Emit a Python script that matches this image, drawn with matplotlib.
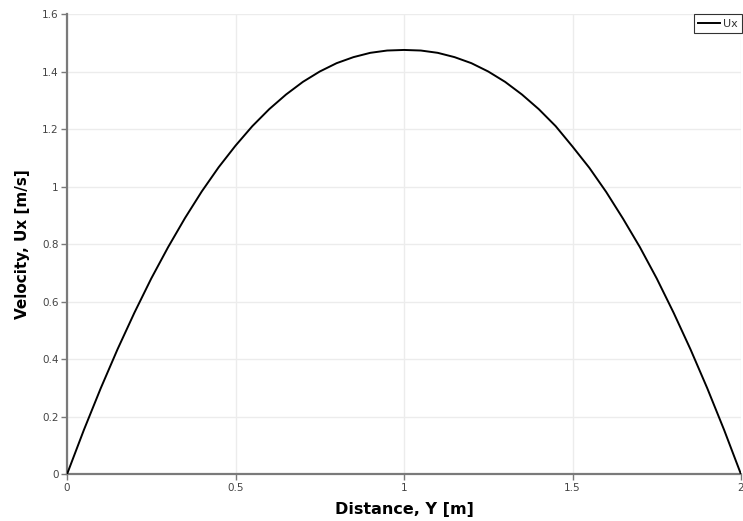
import matplotlib
matplotlib.use("Agg")
import matplotlib.pyplot as plt
from matplotlib.ticker import FuncFormatter

# Data
distance_y = [0.0, 0.05, 0.1, 0.15, 0.2, 0.25, 0.3, 0.35, 0.4, 0.45, 0.5,
              0.55, 0.6, 0.65, 0.7, 0.75, 0.8, 0.85, 0.9, 0.95, 1.0,
              1.05, 1.1, 1.15, 1.2, 1.25, 1.3, 1.35, 1.4, 1.45, 1.5,
              1.55, 1.6, 1.65, 1.7, 1.75, 1.8, 1.85, 1.9, 1.95, 2.0]
velocity_ux = [0.0, 0.154, 0.299, 0.435, 0.562, 0.681, 0.790, 0.891, 0.984, 1.068, 1.143,
               1.211, 1.270, 1.321, 1.365, 1.401, 1.430, 1.451, 1.466, 1.474, 1.476,
               1.474, 1.466, 1.451, 1.430, 1.401, 1.365, 1.321, 1.270, 1.211, 1.140,
               1.066, 0.982, 0.889, 0.790, 0.681, 0.562, 0.435, 0.299, 0.154, 0.0]
x_ticks = [0, 0.5, 1, 1.5, 2]
y_ticks = [0, 0.2, 0.4, 0.6, 0.8, 1.0, 1.2, 1.4, 1.6]

fig = plt.figure(figsize=(7.43, 5.21), dpi=100)
ax = fig.add_axes([67/743, 1 - 474.3/521, (741 - 67)/743, (474.3 - 14.3)/521])

ax.plot(distance_y, velocity_ux, color="black", linewidth=1.4, label="Ux", zorder=3)

ax.set_xlim(0, 2)
ax.set_ylim(0, 1.6)
ax.set_xticks(x_ticks)
ax.set_yticks(y_ticks)
fmt = FuncFormatter(lambda v, p: ("%g" % v))
ax.xaxis.set_major_formatter(fmt)
ax.yaxis.set_major_formatter(fmt)

ax.grid(True, color="#ececec", linewidth=1.0, zorder=0)
for s in ["top", "right"]:
    ax.spines[s].set_visible(False)
for s in ["left", "bottom"]:
    ax.spines[s].set_color("#7a7a7a")
    ax.spines[s].set_linewidth(1.6)

ax.tick_params(axis="both", direction="out", length=4, width=1, color="#7a7a7a",
               labelsize=7.5, labelcolor="#444444", pad=2)

ax.set_xlabel("Distance, Y [m]", fontsize=11.5, fontweight="bold", labelpad=7)
ax.set_ylabel("Velocity, Ux [m/s]", fontsize=11, fontweight="bold", labelpad=9)

leg = ax.legend(loc="upper left", bbox_to_anchor=(0.930, 1.0), frameon=True, fancybox=False,
                fontsize=8, handlelength=2.0, handletextpad=0.2, borderpad=0.4,
                borderaxespad=0.0)
leg.get_frame().set_edgecolor("black")
leg.get_frame().set_linewidth(0.8)
for t in leg.get_texts():
    t.set_color("#333333")

fig.savefig("out.png", dpi=100)
